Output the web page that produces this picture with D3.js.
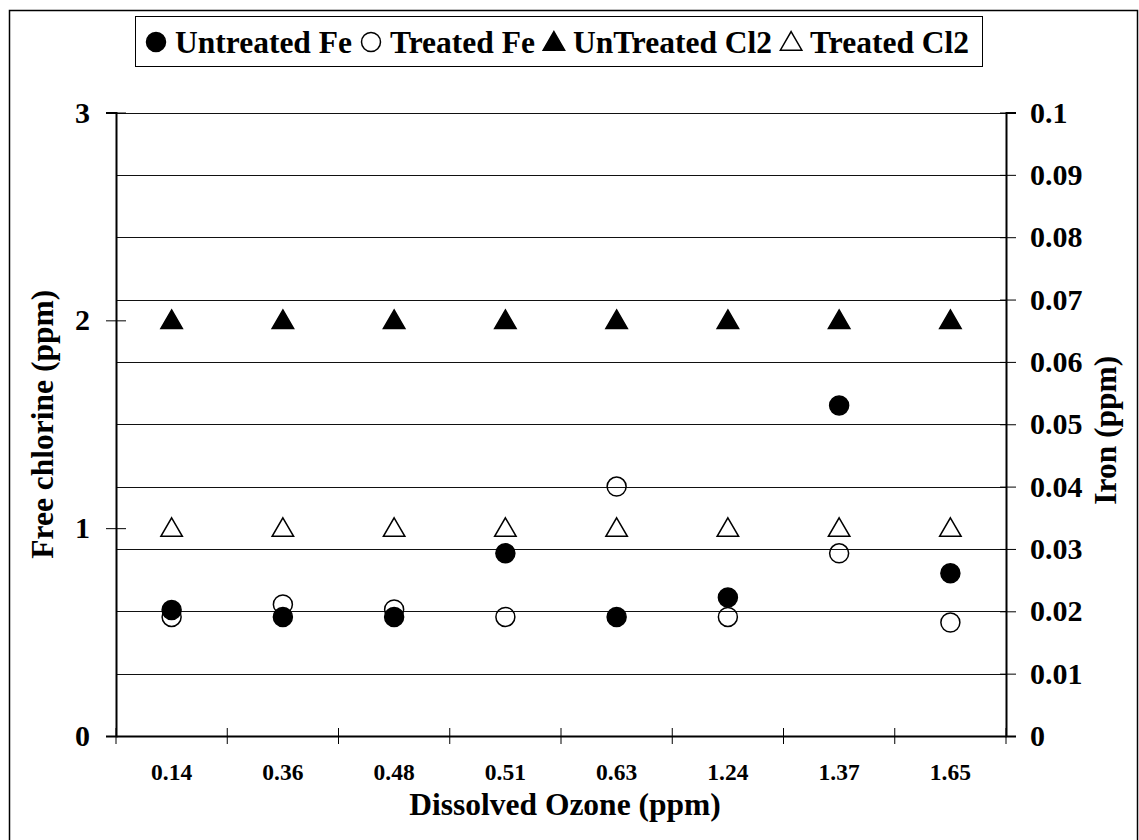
<!DOCTYPE html>
<html><head><meta charset="utf-8">
<script src="https://cdn.jsdelivr.net/npm/d3@7"></script>
<style>
html,body{margin:0;padding:0;background:#fff;}
svg{display:block;font-family:"Liberation Serif","Times New Roman",serif;font-weight:bold;}
</style></head>
<body>
<svg id="chart" width="1139" height="840"></svg>
<script>
const categories = ["0.14","0.36","0.48","0.51","0.63","1.24","1.37","1.65"];
const untreatedFe = [0.0202,0.0191,0.0191,0.0293,0.0191,0.0222,0.0530,0.0261];
const treatedFe   = [0.0191,0.0211,0.0203,0.0191,0.0400,0.0191,0.0293,0.0182];
const untreatedCl2 = [2,2,2,2,2,2,2,2];
const treatedCl2   = [1,1,1,1,1,1,1,1];
const leftTicks = [0,1,2,3];
const rightTicks = [0,0.01,0.02,0.03,0.04,0.05,0.06,0.07,0.08,0.09,0.1];
const legendItems = [
  {label:"Untreated Fe", shape:"circle", filled:true},
  {label:"Treated Fe", shape:"circle", filled:false},
  {label:"UnTreated Cl2", shape:"triangle", filled:true},
  {label:"Treated Cl2", shape:"triangle", filled:false}
];

const svg = d3.select("#chart");
const L = 116, R = 1006, T = 112.5, B = 736;

// outer frame
svg.append("rect").attr("x",9.5).attr("y",10.5).attr("width",1128).attr("height",840)
  .attr("fill","none").attr("stroke","#000").attr("stroke-width",1.5);

const x = d3.scaleBand().domain(categories).range([L,R]).padding(0);
const yL = d3.scaleLinear().domain([0,3]).range([B,T]);
const yR = d3.scaleLinear().domain([0,0.1]).range([B,T]);

// gridlines
svg.append("g").selectAll("line").data(rightTicks.filter(d=>d>0)).join("line")
  .attr("x1",L).attr("x2",R).attr("y1",d=>Math.round(yR(d))+0.5).attr("y2",d=>Math.round(yR(d))+0.5)
  .attr("stroke","#111").attr("stroke-width",1);

// left axis
const gL = svg.append("g").attr("transform",`translate(${L},0)`)
  .call(d3.axisLeft(yL).tickValues(leftTicks).tickFormat(d3.format("d")).tickSize(10).tickPadding(16));
gL.select(".domain").attr("stroke-width",2);
gL.selectAll(".tick line").attr("x2",10).attr("x1",-10);
gL.selectAll(".tick text").attr("font-size",30).attr("font-family","Liberation Serif").attr("font-weight","bold").attr("fill","#000");

// right axis
const gR = svg.append("g").attr("transform",`translate(${R},0)`)
  .call(d3.axisRight(yR).tickValues(rightTicks).tickFormat(d=>d===0?"0":String(+d.toFixed(2))).tickSize(10).tickPadding(14));
gR.select(".domain").attr("stroke-width",2);
gR.selectAll(".tick line").attr("x1",-6).attr("x2",10);
gR.selectAll(".tick text").attr("font-size",30).attr("font-family","Liberation Serif").attr("font-weight","bold").attr("fill","#000");

// bottom axis
const gB = svg.append("g").attr("transform",`translate(0,${B})`)
  .call(d3.axisBottom(x).tickSize(0).tickPadding(27));
gB.select(".domain").attr("stroke-width",2);
gB.selectAll(".tick text").attr("font-size",23.5).attr("font-family","Liberation Serif").attr("font-weight","bold").attr("fill","#000");
const bounds = categories.map(c=>x(c)).concat([x(categories[categories.length-1])+x.bandwidth()]);
gB.append("g").selectAll("line").data(bounds).join("line")
  .attr("x1",d=>d).attr("x2",d=>d).attr("y1",-8).attr("y2",8).attr("stroke","#000").attr("stroke-width",1);

// axis titles
svg.append("text").attr("x",(L+R)/2+4).attr("y",815).attr("text-anchor","middle")
  .attr("font-size",31.5).text("Dissolved Ozone (ppm)");
svg.append("text").attr("transform",`translate(53,${(T+B)/2}) rotate(-90)`).attr("text-anchor","middle")
  .attr("font-size",31.5).text("Free chlorine (ppm)");
svg.append("text").attr("transform",`translate(1116,${(T+B)/2+6}) rotate(-90)`).attr("text-anchor","middle")
  .attr("font-size",31.5).text("Iron (ppm)");

const cx = d => x(d) + x.bandwidth()/2;
const triSym = d3.symbol().type(d3.symbolTriangle).size(200);
const circR = 9.5;

function drawCircles(vals, filled){
  svg.append("g").selectAll("circle").data(vals).join("circle")
    .attr("cx",(d,i)=>cx(categories[i])).attr("cy",d=>yR(d)).attr("r",circR)
    .attr("fill",filled?"#000":"none").attr("stroke","#000").attr("stroke-width",1.5);
}
function drawTris(vals, filled){
  svg.append("g").selectAll("path").data(vals).join("path")
    .attr("d",triSym)
    .attr("transform",(d,i)=>`translate(${cx(categories[i])},${yL(d)+2})`)
    .attr("fill",filled?"#000":"#fff").attr("stroke","#000").attr("stroke-width",1.5);
}
drawTris(untreatedCl2,true);
drawTris(treatedCl2,false);
drawCircles(untreatedFe,true);
drawCircles(treatedFe,false);

// legend
svg.append("rect").attr("x",135.5).attr("y",16.5).attr("width",847).attr("height",50)
  .attr("fill","#fff").attr("stroke","#000").attr("stroke-width",1);
const lg = svg.append("g");
let lx = 156;
const ly = 42;
legendItems.forEach(it=>{
  if(it.shape==="circle"){
    lg.append("circle").attr("cx",lx).attr("cy",ly).attr("r",9.5)
      .attr("fill",it.filled?"#000":"none").attr("stroke","#000").attr("stroke-width",1.5);
  } else {
    lg.append("path").attr("d",triSym).attr("transform",`translate(${lx},${ly+2})`)
      .attr("fill",it.filled?"#000":"#fff").attr("stroke","#000").attr("stroke-width",1.5);
  }
  const t = lg.append("text").attr("x",lx+19).attr("y",ly+11).attr("font-size",31.5).text(it.label);
  const w = t.node().getComputedTextLength();
  lx = lx + 19 + w + 19;
});
</script>
</body></html>
